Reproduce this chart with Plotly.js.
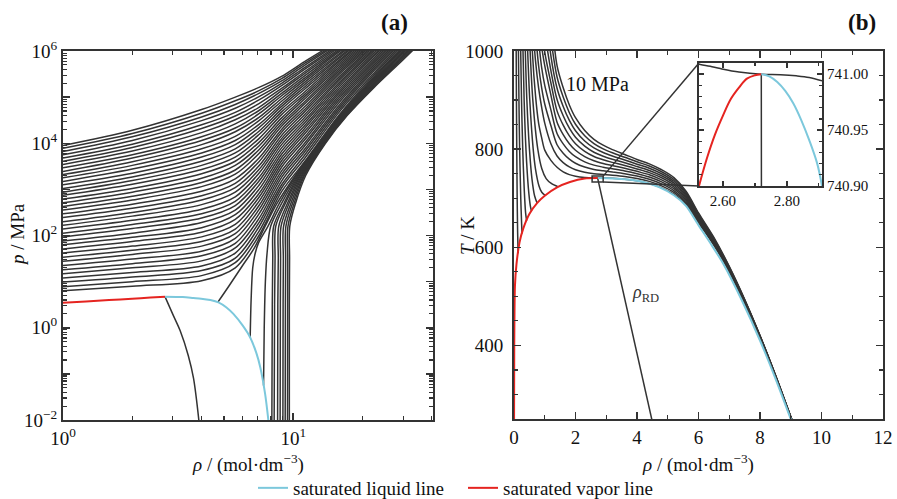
<!DOCTYPE html>
<html><head><meta charset="utf-8">
<script src="https://cdn.plot.ly/plotly-3.0.1.min.js"></script>
<style>html,body{margin:0;padding:0;background:#fff}#chart{width:897px;height:499px}</style>
</head><body><div id="chart"></div>
<script>
// ---------------- Panel (a): isotherms, log10 values ----------------
const rhoGridA = [1, 2, 4, 5.6, 7.1, 8.9, 11.2, 15.8, 22.4, 31.6, 44.7];
// log10(p / MPa) of supercritical isotherms on rhoGridA (from lowest to highest T)
const logPSuper = [
 [0.80,0.90,1.02,1.30,2.00,2.95,3.60,4.61,5.48,6.26],
 [0.89,1.00,1.13,1.41,2.09,3.03,3.67,4.67,5.52,6.30],
 [0.99,1.10,1.24,1.51,2.19,3.10,3.74,4.72,5.57,6.33],
 [1.08,1.20,1.34,1.62,2.28,3.18,3.81,4.77,5.61,6.36],
 [1.17,1.30,1.45,1.73,2.37,3.26,3.87,4.82,5.65,6.40],
 [1.26,1.39,1.56,1.83,2.47,3.33,3.94,4.88,5.69,6.43],
 [1.35,1.49,1.66,1.94,2.56,3.40,4.00,4.93,5.73,6.46],
 [1.44,1.59,1.77,2.04,2.65,3.48,4.07,4.98,5.77,6.49],
 [1.53,1.68,1.87,2.14,2.74,3.55,4.13,5.03,5.81,6.52],
 [1.62,1.77,1.97,2.24,2.83,3.62,4.20,5.08,5.85,6.55],
 [1.71,1.87,2.07,2.35,2.91,3.69,4.26,5.12,5.89,6.58],
 [1.80,1.96,2.17,2.45,3.00,3.76,4.32,5.17,5.92,6.61],
 [1.88,2.05,2.28,2.55,3.09,3.83,4.38,5.22,5.96,6.64],
 [1.97,2.15,2.38,2.65,3.18,3.90,4.44,5.27,6.00,6.67],
 [2.05,2.24,2.47,2.74,3.26,3.97,4.50,5.31,6.03],
 [2.14,2.33,2.57,2.84,3.35,4.04,4.56,5.36,6.06],
 [2.22,2.42,2.67,2.94,3.43,4.10,4.62,5.40,6.10],
 [2.30,2.50,2.77,3.04,3.51,4.17,4.68,5.44,6.13],
 [2.39,2.59,2.86,3.13,3.60,4.24,4.73,5.49,6.16],
 [2.47,2.68,2.96,3.23,3.68,4.30,4.79,5.53,6.19],
 [2.55,2.77,3.06,3.33,3.78,4.37,4.85,5.57,6.22],
 [2.63,2.85,3.15,3.42,3.86,4.43,4.90,5.61,6.25],
 [2.71,2.94,3.24,3.52,3.94,4.49,4.96,5.65,6.28],
 [2.79,3.02,3.34,3.61,4.02,4.55,5.01,5.69,6.31],
 [2.87,3.11,3.43,3.70,4.10,4.62,5.06,5.73,6.34],
 [2.94,3.19,3.52,3.79,4.19,4.68,5.11,5.77,6.37],
 [3.02,3.27,3.61,3.88,4.26,4.74,5.17,5.80,6.39],
 [3.10,3.35,3.70,3.97,4.34,4.80,5.22,5.84,6.42],
 [3.17,3.44,3.79,4.06,4.41,4.85,5.27,5.87,6.44],
 [3.25,3.52,3.88,4.15,4.49,4.91,5.32,5.91,6.47],
 [3.32,3.60,3.97,4.25,4.56,4.97,5.37,5.94,6.49],
 [3.39,3.68,4.06,4.33,4.64,5.03,5.41,5.98,6.51],
 [3.47,3.75,4.14,4.42,4.71,5.08,5.46,6.01,6.54],
 [3.54,3.83,4.23,4.51,4.78,5.14,5.51,6.04],
 [3.61,3.91,4.32,4.59,4.86,5.19,5.55,6.08],
 [3.68,3.98,4.40,4.67,4.94,5.25,5.60,6.11],
 [3.75,4.06,4.49,4.76,5.01,5.30,5.64,6.14],
 [3.82,4.14,4.57,4.84,5.08,5.35,5.69,6.17],
 [3.89,4.21,4.65,4.92,5.14,5.40,5.73,6.19],
 [3.95,4.28,4.73,5.00,5.21,5.45,5.77,6.22]
];
// subcritical (liquid-side) isotherms: log10(rho), log10(p)
const liqLogRho = [
 [0.672,0.72,0.78,0.83,0.878,0.93,1.009,1.112,1.202,1.306,1.418,1.519],
 [0.813,0.817,0.824,0.834,0.85,0.89,0.94,1.013,1.115,1.205,1.311,1.423,1.525],
 [0.871,0.874,0.879,0.886,0.902,0.95,1.018,1.117,1.209,1.315,1.429,1.531],
 [0.907,0.909,0.911,0.915,0.96,1.022,1.120,1.212,1.319,1.435,1.537],
 [0.917,0.919,0.921,0.924,0.966,1.027,1.123,1.215,1.323,1.441,1.543],
 [0.932,0.933,0.935,0.937,0.975,1.031,1.126,1.218,1.328,1.446,1.548],
 [0.943,0.944,0.945,0.947,0.982,1.036,1.129,1.221,1.332,1.452,1.554],
 [0.955,0.956,0.957,0.958,0.990,1.040,1.132,1.224,1.336,1.458,1.560],
 [0.965,0.966,0.967,0.968,0.997,1.045,1.134,1.228,1.340,1.464,1.566],
 [0.975,0.976,0.976,0.977,1.004,1.049,1.137,1.231,1.345,1.469,1.572],
 [0.983,0.983,0.984,0.985,1.010,1.054,1.140,1.234,1.349,1.475,1.578]
];
const liqLogP = [
 [0.55,0.90,1.35,1.72,2.2,2.7,3.3,4.0,4.6,5.2,5.8,6.3],
 [-0.21,0.6,1.3,1.6,1.85,2.2,2.7,3.3,4.0,4.6,5.2,5.8,6.3],
 [-1.25,0.0,1.0,1.6,2.2,2.7,3.3,4.0,4.6,5.2,5.8,6.3],
 [-2.2,0.5,1.5,2.2,2.7,3.3,4.0,4.6,5.2,5.8,6.3],
 [-2.2,0.5,1.5,2.2,2.7,3.3,4.0,4.6,5.2,5.8,6.3],
 [-2.2,0.5,1.5,2.2,2.7,3.3,4.0,4.6,5.2,5.8,6.3],
 [-2.2,0.5,1.5,2.2,2.7,3.3,4.0,4.6,5.2,5.8,6.3],
 [-2.2,0.5,1.5,2.2,2.7,3.3,4.0,4.6,5.2,5.8,6.3],
 [-2.2,0.5,1.5,2.2,2.7,3.3,4.0,4.6,5.2,5.8,6.3],
 [-2.2,0.5,1.5,2.2,2.7,3.3,4.0,4.6,5.2,5.8,6.3],
 [-2.2,0.5,1.5,2.2,2.7,3.3,4.0,4.6,5.2,5.8,6.3]
];
const satVapA_logRho = [0, 0.1, 0.2, 0.3, 0.38, 0.443];
const satVapA_logP   = [0.54, 0.57, 0.60, 0.63, 0.655, 0.674];
const satLiqA_logRho = [0.443,0.52,0.566,0.6,0.64,0.675,0.71,0.74,0.78,0.813,0.84,0.857,0.878,0.893];
const satLiqA_logP   = [0.674,0.665,0.645,0.63,0.6,0.55,0.44,0.3,0.05,-0.21,-0.55,-0.86,-1.44,-2.05];
const rdA_logRho = [0.443,0.477,0.509,0.544,0.567,0.591];
const rdA_logP   = [0.674,0.29,-0.065,-0.6,-1.1,-2.05];

// ---------------- Panel (b): isobars T(rho) ----------------
const rhoGridB = [0.5,0.6,0.7,0.8,0.9,1.0,1.2,1.4,1.6,1.8,2.0,2.3,2.6,2.9,3.2,3.6,4.0,4.4,4.8,5.2,5.6,6.0,6.5,7.0,7.5,8.0,8.5,9.0,9.2];
// supercritical isobars (critical ... 10 MPa); each row ends at the last grid value
const isobarT = [
 [1180,996,909,853,823,798,777,763,753.5,748,744.8,742.2,741.1,740.98,740.5,738.8,735.5,729.8,721,708,687,650,604,550,486,415,336.5,252.4,219.5],
 [1062,980,925,885,853,811,786,772.6,763.8,758,752.8,749.9,748.4,747,744.4,740.3,734.3,725.1,711.8,690,652.2,605.8,551.2,486.9,415.6,336.9,252.7,219.8],
 [1040,970,925,892,848,809,791.6,779.6,771.3,763.5,758.6,755.9,753.5,750,745.2,738.7,729.2,715.6,693,654.4,607.6,552.4,487.8,416.1,337.3,253,220.1],
 [1022,966,930,880,832,810.7,795.3,784.5,774.1,767.4,763.3,760,755.5,750,743.2,733.3,719.3,696,656.7,609.3,553.7,488.7,416.7,337.7,253.3,220.3],
 [1008,970,910,855,829.7,811.1,797.8,784.8,776.2,770.7,766.5,761.1,754.8,747.7,737.4,723.1,699,658.9,611.1,554.9,489.6,417.2,338.1,253.6,220.6],
 [1062,998,935,878,848.8,826.9,811,795.4,784.9,778.2,773,766.7,759.7,752.2,741.6,726.9,702,661.1,612.9,556.1,490.5,417.8,338.5,253.9,220.9],
 [1038,960,901,867.9,842.7,824.3,806.1,793.7,785.6,779.5,772.3,764.5,756.6,745.7,730.7,705,663.3,614.7,557.3,491.3,418.4,338.8,254.1,221.2],
 [1110,990,924,886.9,858.5,837.5,816.7,802.5,793.1,786,777.9,769.3,761.1,749.8,734.5,708,665.5,616.5,558.5,492.2,418.9,339.2,254.4,221.5],
 [1025,947,906,874.2,850.7,827.4,811.3,800.5,792.5,783.4,774.2,765.6,753.9,738.2,711,667.8,618.2,559.8,493.1,419.4,339.6,254.7,221.8],
 [1085,970,925,890,864,838,820,808,799,789,779,770,758,742,714,670,620,561,494,420,340,255,222]
];
// subcritical isobars ending on the saturated vapour line
const subIsobarRho = [
 [0.070,0.0795,0.0898,0.1035,0.118,0.134],
 [0.1406,0.1608,0.1842,0.2197,0.2493,0.262],
 [0.2124,0.2444,0.2838,0.3313,0.3772,0.41],
 [0.2855,0.3293,0.3887,0.4679,0.5297,0.567],
 [0.3594,0.4182,0.5026,0.5831,0.6691,0.752],
 [0.4333,0.513,0.624,0.698,0.813,0.903,1.01],
 [0.510,0.612,0.774,0.905,1.046,1.212,1.44]
];
const subIsobarT = [
 [1020,900,800,700,630,588],
 [1020,900,800,700,645,628],
 [1020,900,800,720,670,654],
 [1020,900,800,720,685,674],
 [1020,900,800,740,705,690],
 [1020,900,800,760,725,712,706],
 [1020,900,800,760,740,730,723]
];
const satVapB_rho = [0.002,0.008,0.03,0.08,0.18,0.3,0.5,0.75,1.0,1.4,1.82,2.3,2.72];
const satVapB_T   = [250,400,520,565,610,638,668,690,705,722,733,740.2,741];
const satLiqB_rho = [2.72,3.2,3.7,4.2,4.7,5.2,5.6,6.0,6.4,6.8,7.4,8.0,8.5,9.0,9.1];
const satLiqB_T   = [741,740.3,738,733,723,706,684,645,607,567,493,410,333,250,233];
const rdB_rho = [2.72,3.1,3.6,4.05,4.48,4.55];
const rdB_T   = [741,636,498,375,250,230];
// inset (zoom near the critical point)
const insetIsobarRho = [2.525,2.56,2.592,2.65,2.72,2.78,2.829,2.87,2.91];
const insetIsobarT   = [741.009,741.007,741.005,741.002,741.0,740.9995,740.9985,740.997,740.994];
const insetVapRho = [2.525,2.55,2.575,2.6,2.625,2.65,2.675,2.7,2.72];
const insetVapT   = [740.900,740.925,740.946,740.963,740.978,740.988,740.996,740.999,741.0];
const insetLiqRho = [2.72,2.745,2.77,2.795,2.82,2.845,2.87,2.895,2.91];
const insetLiqT   = [741.0,740.998,740.993,740.985,740.974,740.959,740.941,740.920,740.900];
const zoomBoxRho = [2.54, 2.9];
const zoomBoxT = [733, 745];

// ---------------- build ----------------
const BLACK = '#333333', BLUE = '#7cc8dc', RED = '#e52420';
const FONT = 'Liberation Serif, Times New Roman, serif';
const pow10 = a => a.map(v => Math.pow(10, v));
const blk = {color: BLACK, width: 1.5, shape: 'spline', smoothing: 0.9};
const traces = [];
const add = (x, y, xa, ya, line, extra) => traces.push(Object.assign({x, y, xaxis: xa, yaxis: ya, mode: 'lines', line, showlegend: false, hoverinfo: 'skip'}, extra || {}));

logPSuper.forEach(row => add(rhoGridA.slice(0, row.length), pow10(row), 'x', 'y', blk));
liqLogRho.forEach((row, k) => add(pow10(row), pow10(liqLogP[k]), 'x', 'y', blk));
add(pow10(rdA_logRho), pow10(rdA_logP), 'x', 'y', blk);
add(pow10(satLiqA_logRho), pow10(satLiqA_logP), 'x', 'y', {color: BLUE, width: 2, shape: 'spline', smoothing: 0.8}, {name: 'saturated liquid line', showlegend: true, legendrank: 1});
add(pow10(satVapA_logRho), pow10(satVapA_logP), 'x', 'y', {color: RED, width: 2, shape: 'spline', smoothing: 0.8}, {name: 'saturated vapor line', showlegend: true, legendrank: 2});

isobarT.forEach(row => add(rhoGridB.slice(rhoGridB.length - row.length), row, 'x2', 'y2', blk));
subIsobarRho.forEach((row, k) => add(row, subIsobarT[k], 'x2', 'y2', blk));
add(rdB_rho, rdB_T, 'x2', 'y2', {color: BLACK, width: 1.5});
add(satLiqB_rho, satLiqB_T, 'x2', 'y2', {color: BLUE, width: 2, shape: 'spline', smoothing: 0.7});
add(satVapB_rho, satVapB_T, 'x2', 'y2', {color: RED, width: 2, shape: 'spline', smoothing: 0.6});

add(insetIsobarRho, insetIsobarT, 'x3', 'y3', {color: BLACK, width: 1.5, shape: 'spline'});
add(rdB_rho, rdB_T, 'x3', 'y3', {color: BLACK, width: 1.5});
add(insetVapRho, insetVapT, 'x3', 'y3', {color: RED, width: 2, shape: 'spline'});
add(insetLiqRho, insetLiqT, 'x3', 'y3', {color: BLUE, width: 2, shape: 'spline'});

// ---------------- layout ----------------
const W = 897, H = 499;
const px = x => x / W, py = y => 1 - y / H;
const tickFont = {family: FONT, size: 19, color: '#111'};
const base = {showline: true, linecolor: BLACK, linewidth: 2, mirror: 'allticks', ticks: 'inside',
  ticklen: 7, tickwidth: 1.5, tickcolor: BLACK, showgrid: false, zeroline: false, tickfont: tickFont,
  fixedrange: true, automargin: false};
const minorBase = {ticks: 'inside', ticklen: 4, tickwidth: 1.2, tickcolor: BLACK, showgrid: false};

const logMinor = (d0, d1) => { const v = []; for (let d = d0; d < d1; d++) for (let m = 2; m <= 9; m++) v.push(m * Math.pow(10, d)); return v; };
const decades = [], decadeText = [];
for (let d = -2; d <= 6; d++) { decades.push(Math.pow(10, d)); decadeText.push(d % 2 === 0 ? '10<sup>' + (d < 0 ? '\u2212' + (-d) : d) + '</sup>' : ' '); }

const xd2 = [px(514), px(883)], yd2 = [py(419), py(51)];
const xd3 = [px(699), px(822)], yd3 = [py(186), py(63)];
const toPaperX2 = r => xd2[0] + (r - 0) / 12 * (xd2[1] - xd2[0]);
const toPaperY2 = t => yd2[0] + (t - 250) / 750 * (yd2[1] - yd2[0]);
const ann = (text, x, y, size, extra) => Object.assign({text, xref: 'paper', yref: 'paper', x: px(x), y: py(y), xanchor: 'center', yanchor: 'middle', showarrow: false, font: {family: FONT, size, color: '#111'}}, extra || {});

const layout = {
  width: W, height: H, autosize: false, margin: {l: 0, r: 0, t: 0, b: 0, pad: 0, autoexpand: false},
  paper_bgcolor: '#fff', plot_bgcolor: '#fff', font: {family: FONT, color: '#111'},
  xaxis: Object.assign({}, base, {domain: [px(63), px(433)], anchor: 'y', type: 'log', range: [0, 1.607],
    tickmode: 'array', tickvals: [1, 10], ticktext: ['10<sup>0</sup>', '10<sup>1</sup>'],
    minor: Object.assign({}, minorBase, {tickmode: 'array', tickvals: [2,3,4,5,6,7,8,9,20,30,40]})}),
  yaxis: Object.assign({}, base, {domain: [py(420), py(51)], anchor: 'x', type: 'log', range: [-2, 6],
    tickmode: 'array', tickvals: decades, ticktext: decadeText,
    minor: Object.assign({}, minorBase, {tickmode: 'array', tickvals: logMinor(-2, 6)})}),
  xaxis2: Object.assign({}, base, {domain: xd2, anchor: 'y2', range: [0, 12], tick0: 0, dtick: 2,
    minor: Object.assign({}, minorBase, {dtick: 1})}),
  yaxis2: Object.assign({}, base, {domain: yd2, anchor: 'x2', range: [250, 1000], tick0: 0, dtick: 200, ticklabelstandoff: 5,
    minor: Object.assign({}, minorBase, {tick0: 0, dtick: 50})}),
  xaxis3: Object.assign({}, base, {domain: xd3, anchor: 'y3', range: [2.525, 2.91], tick0: 2.6, dtick: 0.2,
    tickformat: '.2f', ticklen: 5, tickfont: {family: FONT, size: 15, color: '#111'},
    minor: Object.assign({}, minorBase, {dtick: 0.1, ticklen: 3})}),
  yaxis3: Object.assign({}, base, {domain: yd3, anchor: 'x3', side: 'right', range: [740.9, 741.01], tick0: 740.9, dtick: 0.05,
    tickformat: '.2f', ticklen: 5, tickfont: {family: FONT, size: 15, color: '#111'},
    minor: Object.assign({}, minorBase, {tick0: 740.9, dtick: 0.01, ticklen: 3})}),
  showlegend: true,
  legend: {orientation: 'h', x: px(253), xanchor: 'left', y: py(488), yanchor: 'middle',
    font: {family: FONT, size: 19, color: '#111'}, itemwidth: 30, entrywidth: 165, entrywidthmode: 'pixels',
    bgcolor: 'rgba(0,0,0,0)', traceorder: 'normal'},
  shapes: [
    {type: 'rect', xref: 'x2', yref: 'y2', x0: zoomBoxRho[0], x1: zoomBoxRho[1], y0: zoomBoxT[0], y1: zoomBoxT[1], line: {color: BLACK, width: 1.5}},
    {type: 'line', xref: 'paper', yref: 'paper', x0: toPaperX2(zoomBoxRho[1]), y0: toPaperY2(zoomBoxT[1]), x1: xd3[0], y1: yd3[1], line: {color: BLACK, width: 1.5}},
    {type: 'line', xref: 'paper', yref: 'paper', x0: toPaperX2(zoomBoxRho[1]), y0: toPaperY2(zoomBoxT[0]), x1: xd3[0], y1: yd3[0], line: {color: BLACK, width: 1.5}}
  ],
  annotations: [
    ann('<b>(a)</b>', 394, 22, 23),
    ann('<b>(b)</b>', 862, 22, 23),
    ann('<i>p</i> / MPa', 17, 235, 19, {textangle: -90}),
    ann('<i>T</i> / K', 467, 236, 19, {textangle: -90}),
    ann('<i>ρ</i> / (mol·dm<sup>\u22123</sup>)', 248, 463, 19),
    ann('<i>ρ</i> / (mol·dm<sup>\u22123</sup>)', 698, 463, 19),
    {text: '10 MPa', xref: 'x2', yref: 'y2', x: 2.73, y: 933, xanchor: 'center', yanchor: 'middle', showarrow: false, font: {family: FONT, size: 20, color: '#111'}},
    {text: '<i>ρ</i><sub>RD</sub>', xref: 'x2', yref: 'y2', x: 4.27, y: 506, xanchor: 'center', yanchor: 'middle', showarrow: false, font: {family: FONT, size: 18, color: '#333'}}
  ]
};
Plotly.newPlot('chart', traces, layout, {staticPlot: true, displayModeBar: false});
</script></body></html>
